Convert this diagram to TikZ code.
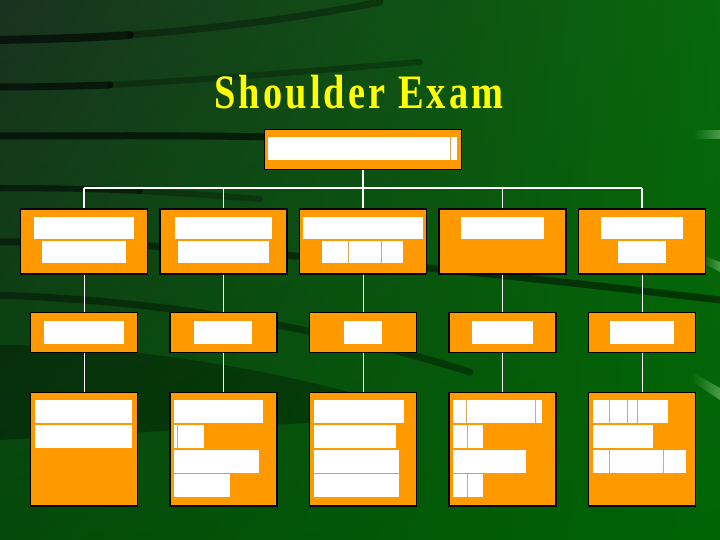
\documentclass[tikz,border=0pt]{standalone}
\usepackage{fontspec}
\setmainfont{Liberation Serif}
\usetikzlibrary{shadings}

\definecolor{boxorange}{RGB}{255,153,0}
\definecolor{celldiv}{RGB}{214,170,96}
\definecolor{titleyellow}{RGB}{255,255,0}
\definecolor{bgtl}{RGB}{26,50,32}
\definecolor{bgtr}{RGB}{8,104,12}
\definecolor{bgbl}{RGB}{4,74,10}
\definecolor{bgbr}{RGB}{0,100,4}
\definecolor{swoosh}{RGB}{90,170,90}

\tikzset{
  orgbox/.style={draw=black, line width=1.5pt, fill=boxorange, inner sep=0pt},
  cell/.style={fill=white},
  divider/.style={draw=celldiv, line width=0.8pt},
  buslink/.style={draw=white, line width=1.6pt},
  link/.style={draw=white, line width=1pt},
  streak/.style={draw=black, line cap=round, opacity=0.4},
  glint/.style={left color=bgtr, right color=swoosh, opacity=0.8}
}

\begin{document}
\begin{tikzpicture}[x=1pt,y=1pt,yscale=-1,xscale=1]
      \useasboundingbox (0,0) rectangle (720,540);

      %Background
      \shade [upper left=bgtl, upper right=bgtr, lower left=bgbl, lower right=bgbr] (0,0) rectangle (720,540);
      \draw [streak, line width=8pt, opacity=0.6] (-5,40) .. controls (60,39) and (100,37) .. (130,35);
      \draw [streak, line width=7pt, opacity=0.3] (130,35) .. controls (220,28) and (300,18) .. (380,2);
      \draw [streak, line width=7pt, opacity=0.6] (-5,87) .. controls (40,87) and (80,86) .. (110,85);
      \draw [streak, line width=6pt, opacity=0.25] (110,85) .. controls (200,80) and (300,72) .. (420,62);
      \draw [streak, line width=7pt, opacity=0.6] (-5,136) .. controls (80,136) and (180,135) .. (270,137);
      \draw [streak, line width=6pt, opacity=0.5] (-5,188) .. controls (50,188) and (100,189) .. (140,191);
      \draw [streak, line width=6pt, opacity=0.25] (140,191) .. controls (180,193) and (220,196) .. (260,199);
      \draw [streak, line width=7pt, opacity=0.45] (-5,242) .. controls (150,240) and (400,262) .. (720,300);
      \draw [streak, line width=7pt, opacity=0.35] (-5,295) .. controls (150,300) and (320,325) .. (470,372);
      \fill [black, opacity=0.28] (0,345) .. controls (120,345) and (250,365) .. (360,395) -- (360,420) -- (0,440) -- cycle;
      \shade [glint] (694,131) rectangle (720,139);
      \shade [glint] (704,256) -- (720,262) -- (720,272) -- (704,264) -- cycle;
      \shade [glint] (693,373) -- (720,388) -- (720,400) -- (693,382) -- cycle;

      % Title
      \node [anchor=base, text=titleyellow, font=\fontsize{48}{52}\selectfont\bfseries\addfontfeatures{LetterSpace=8}, xscale=0.8, inner sep=0pt] (title) at (359,109) {Shoulder Exam};

      %Boxes
      \node [orgbox, minimum width=197, minimum height=40] (exam) at (363,149.3) {};
      \foreach \i/\x in {1/84,2/223.5,3/363,4/502.5,5/642} {
        \node [orgbox, minimum width=127, minimum height=65] (part\i) at (\x,241.5) {};
        \node [orgbox, minimum width=106.6, minimum height=39.6] (test\i) at (\x,332.5) {};
        \node [orgbox, minimum width=106.6, minimum height=113.7] (detail\i) at (\x,449.2) {};
      }

      %Connectors
      \coordinate (bus) at (363,188.3);
      \draw [buslink] (exam.south) -- (bus);
      \draw [buslink] (bus -| part1) -- (bus -| part5);
      \foreach \i in {1,...,5} {
        \draw [buslink] (bus -| part\i) -- (part\i.north);
        \draw [link] (part\i.south) -- (test\i.north);
        \draw [link] (test\i.south) -- (detail\i.north);
      }

      %Cells: top
      \fill [cell] (268.3,136.7) rectangle (456.7,160);
      \draw [divider] (450.7,136.7) -- (450.7,160);

      %Cells: second row
      \fill [cell] (34,217.3) rectangle (134,239.3);
      \fill [cell] (42,240.7) rectangle (126,263.3);
      \fill [cell] (175,217.3) rectangle (271.7,239.3);
      \fill [cell] (178,240.7) rectangle (269,263.3);
      \fill [cell] (303.3,217.3) rectangle (423,239.3);
      \fill [cell] (322,240.7) rectangle (402.7,263.3);
      \draw [divider] (348.3,240.7) -- (348.3,263.3);
      \draw [divider] (381,240.7) -- (381,263.3);
      \fill [cell] (461,217.3) rectangle (544,239.3);
      \fill [cell] (601,217.3) rectangle (683,239.3);
      \fill [cell] (618,240.7) rectangle (666,263.3);

      %Cells: third row
      \fill [cell] (44,321) rectangle (124,343.7);
      \fill [cell] (194,321) rectangle (252,343.7);
      \fill [cell] (344,321) rectangle (381.7,343.7);
      \fill [cell] (472,321) rectangle (533,343.7);
      \fill [cell] (610,321) rectangle (674,343.7);

      %Cells: bottom row
      \fill [cell] (35,400) rectangle (132,423.3);
      \fill [cell] (35,425) rectangle (132,447.7);

      \fill [cell] (174,400) rectangle (263,423.3);
      \fill [cell] (174,425) rectangle (204,447.7);
      \draw [divider] (177.3,425) -- (177.3,447.7);
      \fill [cell] (174,450) rectangle (259,472.7);
      \fill [cell] (174,474) rectangle (230,496.7);

      \fill [cell] (314.3,400) rectangle (404,423.3);
      \fill [cell] (314.3,425) rectangle (395.7,447.7);
      \fill [cell] (314.3,450) rectangle (399,472.7);
      \fill [cell] (314.3,474) rectangle (399,496.7);

      \fill [cell] (453,400) rectangle (542,423.3);
      \draw [divider] (466.7,400) -- (466.7,423.3);
      \draw [divider] (535.7,400) -- (535.7,423.3);
      \fill [cell] (453,425) rectangle (482.7,447.7);
      \draw [divider] (467.3,425) -- (467.3,447.7);
      \fill [cell] (453,450) rectangle (526,472.7);
      \fill [cell] (453,474) rectangle (482.7,496.7);
      \draw [divider] (467.3,474) -- (467.3,496.7);

      \fill [cell] (592.7,400) rectangle (668,423.3);
      \draw [divider] (609.3,400) -- (609.3,423.3);
      \draw [divider] (627.3,400) -- (627.3,423.3);
      \draw [divider] (637.3,400) -- (637.3,423.3);
      \fill [cell] (592.7,425) rectangle (653,447.7);
      \fill [cell] (592.7,450) rectangle (686,472.7);
      \draw [divider] (609.3,450) -- (609.3,472.7);
      \draw [divider] (663.3,450) -- (663.3,472.7);

    \end{tikzpicture}
\end{document}
